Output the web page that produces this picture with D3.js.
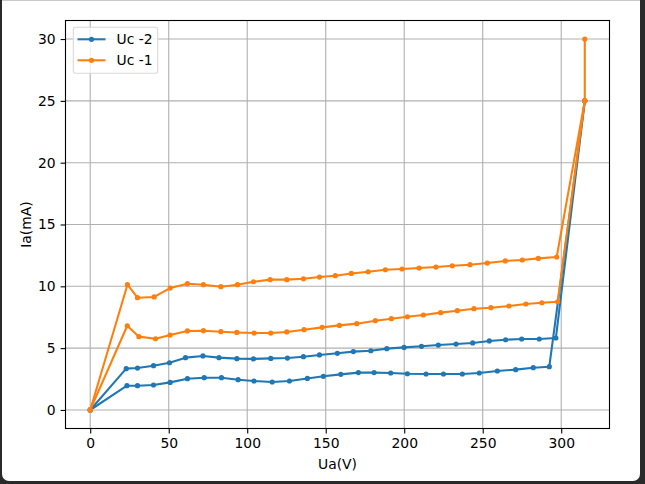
<!DOCTYPE html>
<html>
<head>
<meta charset="utf-8">
<script src="https://cdn.jsdelivr.net/npm/d3@7"></script>
<style>
  html, body { margin: 0; padding: 0; }
  body { width: 645px; height: 484px; background: #2a2a2a; position: relative; overflow: hidden; }
  #win { position: absolute; left: 2px; top: 0; width: 638px; height: 481px; background: #fff;
         border-top: 1px solid #c9c9c9; box-sizing: border-box; border-radius: 0 0 7px 7px; }
  svg { position: absolute; left: 0; top: 0; }
  text { font-family: "DejaVu Sans", sans-serif; }
</style>
</head>
<body>
<div id="win"></div>
<svg id="chart" width="645" height="484"></svg>
<script>
// Uc -2, two curves
const blueLowX = [0, 23.4, 30.1, 40.3, 50.9, 61.9, 72.6, 83.6, 94.2, 104.3, 115.9, 126.9, 138.3, 148.5, 159.6, 170.8, 180.8, 191.4, 202, 213.9, 225, 237, 247.8, 259.3, 271, 282.2, 292.4, 315];
const blueLowY = [0, 1.96, 1.96, 2.02, 2.23, 2.53, 2.61, 2.61, 2.45, 2.34, 2.26, 2.34, 2.55, 2.72, 2.88, 3.02, 3.02, 2.99, 2.93, 2.91, 2.91, 2.91, 2.99, 3.15, 3.26, 3.42, 3.5, 25];
const blueHighX = [0, 22.9, 30.1, 40.3, 50.5, 60.7, 71.8, 82, 93.4, 104, 115, 125.6, 135.8, 146, 157.4, 167.6, 178.7, 188.9, 199.9, 211, 221.7, 233, 243.6, 254.2, 264.6, 274.8, 286, 296.6, 315];
const blueHighY = [0, 3.34, 3.39, 3.58, 3.82, 4.23, 4.37, 4.23, 4.15, 4.13, 4.17, 4.2, 4.31, 4.45, 4.58, 4.72, 4.79, 4.96, 5.06, 5.15, 5.25, 5.33, 5.42, 5.58, 5.68, 5.74, 5.74, 5.82, 25];
// Uc -1, two curves
const orangeLowX = [0, 23.6, 31, 41.6, 50.9, 61.9, 72.1, 83.2, 93.4, 104.4, 115, 125.2, 136.2, 147.7, 158.7, 169.8, 181.6, 191.8, 202, 212.2, 223.2, 233.8, 244.4, 255.2, 266.7, 277.5, 287.7, 297.7, 315];
const orangeLowY = [0, 6.81, 5.93, 5.76, 6.06, 6.39, 6.41, 6.33, 6.27, 6.22, 6.22, 6.31, 6.49, 6.68, 6.84, 6.98, 7.22, 7.38, 7.54, 7.68, 7.87, 8.03, 8.19, 8.27, 8.41, 8.57, 8.67, 8.75, 25];
const orangeHighX = [0, 23.7, 30.1, 40.7, 50.9, 61.9, 72.1, 83.2, 93.8, 104, 114.6, 125.2, 135.8, 146, 156.1, 166.3, 177, 188, 198.6, 209.5, 220.2, 230.6, 241.9, 252.9, 264.4, 275.2, 285.4, 297.1, 315, 315];
const orangeHighY = [0, 10.13, 9.08, 9.14, 9.86, 10.21, 10.13, 9.97, 10.13, 10.37, 10.54, 10.54, 10.61, 10.75, 10.86, 11.04, 11.18, 11.34, 11.4, 11.48, 11.56, 11.66, 11.75, 11.88, 12.05, 12.13, 12.26, 12.37, 25, 30];

const xTicks = [0, 50, 100, 150, 200, 250, 300];
const yTicks = [0, 5, 10, 15, 20, 25, 30];
const legendLabels = ["Uc -2", "Uc -1"];

const blue = "#1f77b4", orange = "#ff7f0e";

const axLeft = 65.5, axRight = 609.5, axTop = 20.5, axBottom = 428.5;

const x = d3.scaleLinear().domain([-15.75, 330.75]).range([axLeft, axRight]);
const y = d3.scaleLinear().domain([-1.5, 31.5]).range([axBottom, axTop]);

const svg = d3.select("#chart");

// grid
const grid = svg.append("g").attr("stroke", "#b0b0b0").attr("stroke-width", 1.1);
grid.selectAll(".gx").data(xTicks).enter().append("line")
  .attr("x1", d => x(d)).attr("x2", d => x(d)).attr("y1", axTop).attr("y2", axBottom);
grid.selectAll(".gy").data(yTicks).enter().append("line")
  .attr("y1", d => y(d)).attr("y2", d => y(d)).attr("x1", axLeft).attr("x2", axRight);

function zip(xs, ys) {
  return xs.map((v, i) => [v, ys[i]]);
}

const series = [
  { pts: zip(blueHighX, blueHighY), color: blue },
  { pts: zip(blueLowX, blueLowY), color: blue },
  { pts: zip(orangeLowX, orangeLowY), color: orange },
  { pts: zip(orangeHighX, orangeHighY), color: orange }
];

const line = d3.line().x(d => x(d[0])).y(d => y(d[1]));

const plot = svg.append("g");
series.forEach(s => {
  const g = plot.append("g");
  g.append("path").datum(s.pts)
    .attr("d", line)
    .attr("fill", "none")
    .attr("stroke", s.color)
    .attr("stroke-width", 2.08)
    .attr("stroke-linejoin", "round")
    .attr("stroke-linecap", "square");
  g.selectAll("circle").data(s.pts).enter().append("circle")
    .attr("cx", d => x(d[0]))
    .attr("cy", d => y(d[1]))
    .attr("r", 2.6)
    .attr("fill", s.color);
});

// axes
const xAxis = d3.axisBottom(x).tickValues(xTicks).tickSize(4.9).tickPadding(4.9).tickFormat(d3.format("d"));
const yAxis = d3.axisLeft(y).tickValues(yTicks).tickSize(4.9).tickPadding(4.9).tickFormat(d3.format("d"));

const gx = svg.append("g").attr("transform", `translate(0,${axBottom})`).call(xAxis);
const gy = svg.append("g").attr("transform", `translate(${axLeft},0)`).call(yAxis);
[gx, gy].forEach(g => {
  g.select(".domain").remove();
  g.selectAll(".tick line").attr("stroke", "#000").attr("stroke-width", 1.1);
  g.selectAll(".tick text").attr("fill", "#000").style("font-size", "13.9px")
    .style("font-family", "'DejaVu Sans', sans-serif");
});

// spines
svg.append("rect")
  .attr("x", axLeft).attr("y", axTop)
  .attr("width", axRight - axLeft).attr("height", axBottom - axTop)
  .attr("fill", "none").attr("stroke", "#000").attr("stroke-width", 1.1);

// axis labels
svg.append("text").attr("x", (axLeft + axRight) / 2).attr("y", 469)
  .attr("text-anchor", "middle").style("font-size", "13.9px").text("Ua(V)");
svg.append("text")
  .attr("transform", `translate(31,${(axTop + axBottom) / 2}) rotate(-90)`)
  .attr("text-anchor", "middle").style("font-size", "13.9px").text("Ia(mA)");

// legend
const lg = svg.append("g");
lg.append("rect").attr("x", 73.3).attr("y", 27.3).attr("width", 84.4).attr("height", 46)
  .attr("rx", 2.5).attr("fill", "#fff").attr("fill-opacity", 0.8)
  .attr("stroke", "#d9d9d9").attr("stroke-width", 1.1);
legendLabels.forEach((lab, i) => {
  const c = i === 0 ? blue : orange;
  const ly = 39.3 + i * 21;
  lg.append("line").attr("x1", 77.5).attr("x2", 105.5).attr("y1", ly).attr("y2", ly)
    .attr("stroke", c).attr("stroke-width", 2.08);
  lg.append("circle").attr("cx", 91.5).attr("cy", ly).attr("r", 2.6).attr("fill", c);
  lg.append("text").attr("x", 116.5).attr("y", ly + 5).style("font-size", "13.9px").text(lab);
});
</script>
</body>
</html>
